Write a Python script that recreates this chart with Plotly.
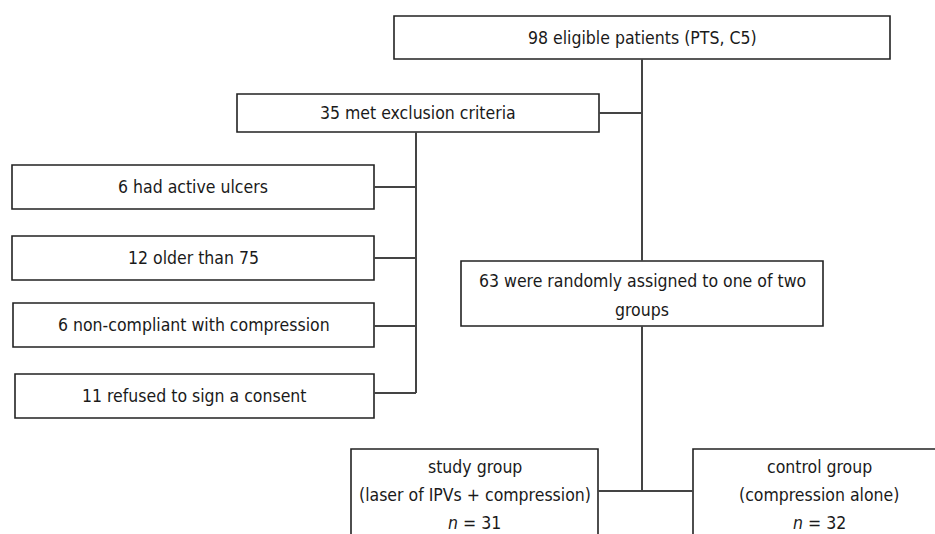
import plotly.graph_objects as go

# ---- data (flow counts and labels) ----
counts = {"eligible": 98, "excluded": 35, "ulcers": 6, "older": 12,
          "noncompliant": 6, "refused": 11, "randomized": 63,
          "study": 31, "control": 32}

labels = {
    "eligible": [f"{counts['eligible']} eligible patients (PTS, C5)"],
    "excluded": [f"{counts['excluded']} met exclusion criteria"],
    "ulcers": [f"{counts['ulcers']} had active ulcers"],
    "older": [f"{counts['older']} older than 75"],
    "noncompliant": [f"{counts['noncompliant']} non-compliant with compression"],
    "refused": [f"{counts['refused']} refused to sign a consent"],
    "randomized": [f"{counts['randomized']} were randomly assigned to one of two", "groups"],
    "study": ["study group", "(laser of IPVs + compression)", f"<i>n</i> = {counts['study']}"],
    "control": ["control group", "(compression alone)", f"<i>n</i> = {counts['control']}"],
}

# ---- layout geometry (pixels, y downward) ----
boxes = {
    "eligible": (394, 16, 890, 59),
    "excluded": (237, 94, 599, 132),
    "ulcers": (12, 165, 374, 209),
    "older": (12, 236, 374, 280),
    "noncompliant": (13, 303, 374, 347),
    "refused": (15, 374, 374, 418),
    "randomized": (461, 261, 823, 326),
    "study": (351, 449, 598, 600),
    "control": (693, 449, 945, 600),
}
line_y = {
    "eligible": [37.5], "excluded": [113], "ulcers": [187], "older": [258],
    "noncompliant": [325], "refused": [396], "randomized": [281, 310],
    "study": [467, 495, 523], "control": [467, 495, 523],
}

connectors = [
    ((642, 59), (642, 261)),
    ((599, 113), (642, 113)),
    ((416, 132), (416, 393)),
    ((374, 187), (416, 187)),
    ((374, 258), (416, 258)),
    ((374, 326), (416, 326)),
    ((374, 393), (416, 393)),
    ((642, 326), (642, 491)),
    ((598, 491), (693, 491)),
]

FONT = "DejaVu Sans Condensed, Liberation Sans Narrow, sans-serif"
box_color = "#222222"
line_color = "#444444"

fig = go.Figure()
shapes = []
for key, (x0, y0, x1, y1) in boxes.items():
    shapes.append(dict(type="rect", xref="x", yref="y", x0=x0, y0=y0, x1=x1, y1=y1,
                       line=dict(color=box_color, width=1.6), fillcolor="rgba(0,0,0,0)",
                       layer="above"))
for (a, b) in connectors:
    shapes.append(dict(type="line", xref="x", yref="y", x0=a[0], y0=a[1], x1=b[0], y1=b[1],
                       line=dict(color=line_color, width=2), layer="above"))

annotations = []
for key, (x0, y0, x1, y1) in boxes.items():
    for txt, ty in zip(labels[key], line_y[key]):
        annotations.append(dict(x=(x0 + x1) / 2, y=ty, xref="x", yref="y",
                                text=txt, showarrow=False,
                                font=dict(family=FONT, size=17.5, color="#1a1a1a"),
                                xanchor="center", yanchor="middle", align="center"))

# invisible trace to set up axes
fig.add_trace(go.Scatter(x=[0, 935], y=[0, 534], mode="markers",
                         marker=dict(opacity=0), hoverinfo="skip", showlegend=False))

fig.update_layout(
    width=935, height=534,
    margin=dict(l=0, r=0, t=0, b=0),
    paper_bgcolor="white", plot_bgcolor="white",
    shapes=shapes, annotations=annotations,
    xaxis=dict(range=[0, 935], visible=False, fixedrange=True),
    yaxis=dict(range=[534, 0], visible=False, fixedrange=True),
    showlegend=False,
)

fig.write_html("out.html", config={"displayModeBar": False},
               post_script="document.body.style.margin='0';")
